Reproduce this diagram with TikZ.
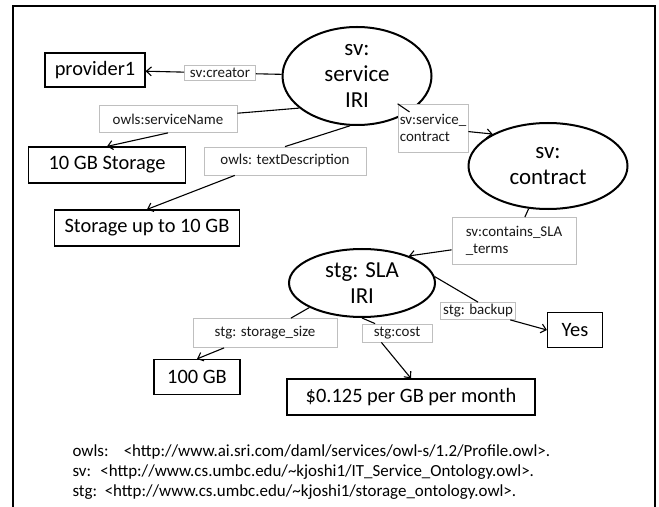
\documentclass[tikz,border=0pt]{standalone}
\usepackage{fontspec}
\setmainfont{Carlito}
\usetikzlibrary{shapes.geometric,arrows.meta}

\begin{document}
\begin{tikzpicture}[x=1bp,y=-1bp,>={Straight Barb[length=5bp,width=9bp]},
        thing/.style={shape=ellipse,draw=black,line width=2bp,inner sep=0pt,align=center,font=\fontsize{23}{26}\selectfont},
        value/.style={shape=rectangle,draw=black,line width=1.2bp,inner sep=0pt,font=\fontsize{20.5}{24}\selectfont},
        prop/.style={shape=rectangle,draw=black!25,fill=white,line width=0.8bp,inner sep=0pt,align=left,text=black!90,font=\fontsize{15}{17}\selectfont},
        every edge/.style={draw,line width=1.1bp}]
        \useasboundingbox (0,0) rectangle (659,507);
        \draw[line width=2bp] (13,507) -- (13,6) -- (655,6) -- (655,507);

        \node[thing,minimum width=149bp,minimum height=98bp] (service)  at (357,76)  {sv:\\service\\IRI};
        \node[thing,minimum width=159bp,minimum height=86bp] (contract) at (548,166) {sv:\\contract};
        \node[thing,minimum width=146bp,minimum height=68bp] (sla)      at (362,283) {stg: SLA\\IRI};

        \node[value,minimum width=100bp,minimum height=34bp] (provider) at (95,70)   {provider1};
        \node[value,minimum width=157bp,minimum height=36bp] (storname) at (107,165) {10 GB Storage};
        \node[value,minimum width=185bp,minimum height=36bp] (stordesc) at (147,228) {Storage up to 10 GB};
        \node[value,minimum width=86bp,minimum height=35bp]  (size)     at (197,377) {100 GB};
        \node[value,minimum width=248bp,minimum height=36bp] (price)    at (411,397) {\$0.125 per GB per month};
        \node[value,minimum width=55bp,minimum height=35bp]  (yes)      at (575,330) {Yes};

        \node[prop,minimum width=71bp,minimum height=15bp]  (creatorlbl)  at (220,73)  {sv:creator};
        \node[prop,minimum width=138bp,minimum height=27bp] (namelbl)     at (168,119) {owls:serviceName};
        \node[prop,minimum width=162bp,minimum height=28bp] (desclbl)     at (285,161) {owls: textDescription};
        \node[prop,minimum width=70bp,minimum height=48bp]  (contractlbl) at (433,128) {sv:service\_\\contract};
        \node[prop,minimum width=124bp,minimum height=47bp] (termslbl)    at (514,241) {sv:contains\_SLA\\\_terms};
        \node[prop,minimum width=144bp,minimum height=29bp] (sizelbl)     at (265,333) {stg: storage\_size};
        \node[prop,minimum width=70bp,minimum height=18bp]  (costlbl)     at (397,333) {stg:cost};
        \node[prop,minimum width=75bp,minimum height=17bp]  (backuplbl)   at (478,311) {stg: backup};

        \path (service) edge (creatorlbl);
        \path [->] (creatorlbl) edge (provider);
        \path (service.209) edge (namelbl);
        \path [->] (namelbl.south) edge (storname.north);
        \path (service.262) edge (desclbl.north);
        \path [->] (desclbl.196) edge (stordesc.north);
        \path (service) edge (contractlbl);
        \path [->] (contractlbl) edge (contract.150);
        \path (contract) edge (termslbl);
        \path [->] (termslbl) edge (sla.30);
        \path (sla.205) edge (sizelbl);
        \path [->] (sizelbl.200) edge (size.north);
        \path (sla.south) edge (costlbl);
        \path [->] (costlbl.211) edge (price.north);
        \path (sla.5) edge (backuplbl.north);
        \path [->] (backuplbl) edge (yes.west);

        \node[anchor=west,align=left,font=\fontsize{17}{20}\selectfont] (prefixes) at (69,472)
            {owls:\hspace{0.9em}<http://www.ai.sri.com/daml/services/owl-s/1.2/Profile.owl>.\\
             sv:\hspace{0.55em}<http://www.cs.umbc.edu/\textasciitilde kjoshi1/IT\_Service\_Ontology.owl>.\\
             stg:\hspace{0.45em}<http://www.cs.umbc.edu/\textasciitilde kjoshi1/storage\_ontology.owl>.};
    \end{tikzpicture}
\end{document}
